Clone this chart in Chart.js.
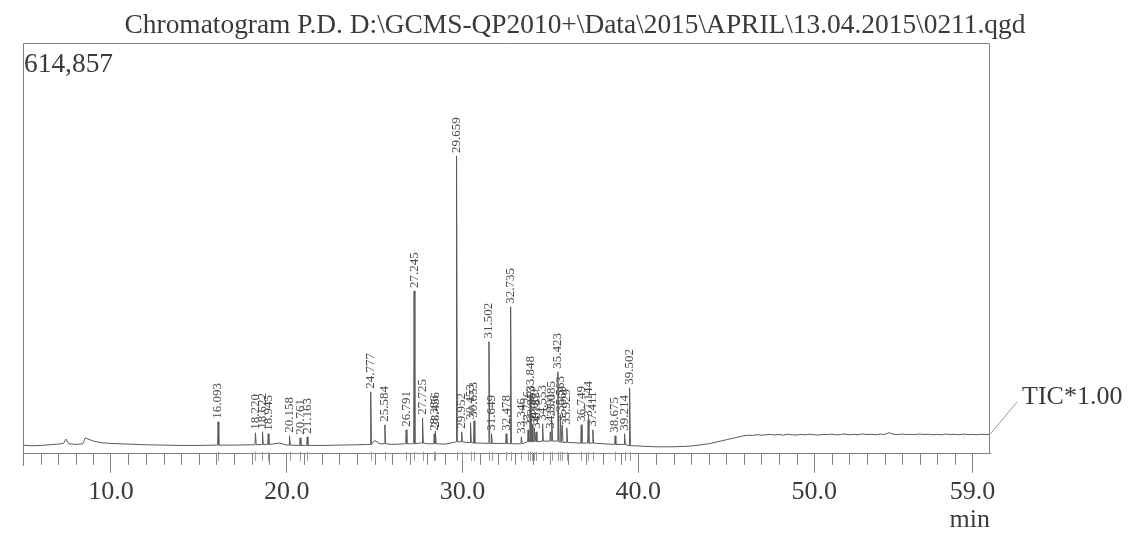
<!DOCTYPE html>
<html>
<head>
<meta charset="utf-8">
<script src="https://cdn.jsdelivr.net/npm/chart.js@4.4.1/dist/chart.umd.min.js"></script>
<style>
  html, body { margin: 0; padding: 0; background: #ffffff; }
  #wrap { width: 1128px; height: 536px; position: relative; }
</style>
</head>
<body>
<div id="wrap"><canvas id="c" width="1128" height="536"></canvas></div>
<script>
// ---- text ----
const chartTitle = 'Chromatogram P.D. D:\\GCMS-QP2010+\\Data\\2015\\APRIL\\13.04.2015\\0211.qgd';
const yMaxLabel = '614,857';
const traceLabel = 'TIC*1.00';
const xUnit = 'min';

// ---- axis ----
const xMin = 5.0, xMax = 60.0;
const yMax = 614857;
const xTickValues = [10, 20, 30, 40, 50, 59];
const xTickLabels = ['10.0', '20.0', '30.0', '40.0', '50.0', '59.0'];

// ---- integrated peaks: retention time (min) and apex intensity (counts) ----
const peakTimes = [
  16.093, 18.220, 18.622, 18.945, 20.158, 20.761, 21.163,
  24.777, 25.584, 26.791, 27.245, 27.725, 28.386, 28.456,
  29.659, 29.952, 30.453, 30.653, 31.502, 31.649, 32.478, 32.735,
  33.346, 33.726, 33.848, 33.953, 34.080, 34.187, 34.553, 34.991,
  35.085, 35.423, 35.563, 35.669, 35.929,
  36.749, 37.144, 37.411, 38.675, 39.214, 39.502
];
const peakHeights = [
  47900, 31400, 32900, 29900, 26900, 23900, 25400,
  92700, 43400, 35900, 243800, 53900, 29900, 34400,
  445800, 32900, 46400, 49400, 168000, 29900, 29900, 220000,
  25400, 35900, 88300, 43400, 38900, 32900, 44900, 32900,
  50900, 122700, 58300, 43400, 38900,
  43400, 50900, 35900, 26900, 29900, 98700
];

// ---- baseline between peaks: time (min) and intensity (counts) ----
const baseTimes = [
  5.0, 5.5, 6.0, 6.5, 7.0, 7.3, 7.45, 7.6, 8.0, 8.4, 8.55, 8.7, 9.0, 9.5,
  10.0, 11.0, 12.0, 13.0, 14.0, 15.0, 16.0, 17.0, 18.0, 19.0, 19.6, 20.0,
  21.0, 22.0, 23.0, 24.0, 24.6, 25.0, 25.3, 26.0, 27.0, 27.5, 28.0, 29.0,
  29.5, 29.8, 30.2, 31.0, 32.0, 33.0, 34.0, 35.0, 36.0, 37.0, 38.0, 39.0,
  39.8, 40.5, 41.0, 42.0, 43.0, 44.0, 45.0, 45.5,
  46.0, 46.25, 46.5, 46.75, 47.0, 47.25, 47.5, 47.75, 48.0, 48.25, 48.5, 48.75,
  49.0, 49.25, 49.5, 49.75, 50.0, 50.25, 50.5, 50.75, 51.0, 51.25, 51.5, 51.75,
  52.0, 52.25, 52.5, 52.75, 53.0, 53.25, 53.5, 53.75, 54.0, 54.25, 54.5, 54.75,
  55.0, 55.25, 55.5, 55.75, 56.0, 56.25, 56.5, 56.75, 57.0, 57.25, 57.5, 57.75,
  58.0, 58.25, 58.5, 58.75, 59.0, 59.25, 59.5, 59.75, 60.0
];
const baseValues = [
  13000, 12000, 12500, 13500, 14500, 15500, 22000, 15000, 14000, 15000, 24000, 22000, 19000, 16500,
  15500, 14500, 13500, 13000, 12500, 12500, 13000, 13000, 13500, 14000, 16000, 13000,
  12500, 12500, 13000, 13500, 14000, 20000, 15000, 14000, 15000, 16000, 15000, 14500,
  17000, 18000, 17000, 16000, 15500, 15000, 18000, 19000, 17000, 16000, 15000, 14000,
  12000, 11000, 10500, 10500, 11500, 15000, 21000, 24000,
  27000, 27800, 27500, 28600, 27900, 28400, 29100, 28200, 28800, 27900, 29300, 28500,
  28100, 29000, 28400, 29400, 28600, 28000, 29200, 28700, 29500, 28300, 28900, 29600,
  28400, 29100, 28600, 29800, 28800, 29300, 28500, 29600, 29000, 31500, 29400, 28700,
  29500, 28800, 29200, 28600, 29700, 28900, 29300, 28500, 29100, 28400, 29600, 28800,
  29200, 28600, 29500, 28700, 29000, 28500, 29300, 28800, 29000
];

// ---- build the TIC trace: baseline plus narrow peaks ----
function nearestBase(t) {
  let best = 0;
  baseTimes.forEach((b, i) => { if (Math.abs(b - t) < Math.abs(baseTimes[best] - t)) best = i; });
  return baseValues[best];
}
const trace = [];
baseTimes.forEach((t, i) => {
  if (!peakTimes.some(p => Math.abs(p - t) < 0.07)) trace.push({ x: t, y: baseValues[i] });
});
peakTimes.forEach((t, i) => {
  const foot = nearestBase(t);
  trace.push({ x: t - 0.025, y: foot }, { x: t, y: peakHeights[i] }, { x: t + 0.045, y: foot });
});
trace.sort((a, b) => a.x - b.x);

const SERIF = '"Liberation Serif", "DejaVu Serif", serif';
const INK = '#3a3a3a';
const FRAME = '#808080';

// frame, minor ticks, peak labels and annotation text
const chromPlugin = {
  id: 'chromDecor',
  afterDraw(chart) {
    const { ctx, chartArea: a, scales: { x, y } } = chart;
    ctx.save();
    ctx.strokeStyle = FRAME;
    ctx.lineWidth = 1;
    // frame (left, top, right)
    ctx.beginPath();
    ctx.moveTo(a.left + 0.5, a.bottom + 12);
    ctx.lineTo(a.left + 0.5, a.top + 0.5);
    ctx.lineTo(a.right - 0.5, a.top + 0.5);
    ctx.lineTo(a.right - 0.5, a.bottom);
    ctx.stroke();
    // one-minute minor ticks
    ctx.beginPath();
    for (let t = Math.ceil(xMin); t <= xMax - 1; t++) {
      if (xTickValues.includes(t)) continue;
      const px = Math.round(x.getPixelForValue(t)) + 0.5;
      ctx.moveTo(px, a.bottom);
      ctx.lineTo(px, a.bottom + 11);
    }
    ctx.stroke();
    // peak marks under the axis
    ctx.strokeStyle = '#9a9a9a';
    ctx.beginPath();
    peakTimes.forEach(t => {
      const px = Math.round(x.getPixelForValue(t)) + 0.5;
      ctx.moveTo(px, a.bottom - 2);
      ctx.lineTo(px, a.bottom + 7);
    });
    ctx.stroke();

    // retention time above each peak, written upward
    ctx.fillStyle = '#4a4a4a';
    ctx.font = '13px ' + SERIF;
    ctx.textAlign = 'left';
    ctx.textBaseline = 'middle';
    peakTimes.forEach((t, i) => {
      const px = x.getPixelForValue(t);
      const py = y.getPixelForValue(peakHeights[i]) - 3;
      ctx.save();
      ctx.translate(px, py);
      ctx.rotate(-Math.PI / 2);
      ctx.fillText(t.toFixed(3), 0, 0);
      ctx.restore();
    });

    // title
    ctx.fillStyle = INK;
    ctx.font = '27.4px ' + SERIF;
    ctx.textAlign = 'center';
    ctx.textBaseline = 'alphabetic';
    ctx.fillText(chartTitle, 575, 33);
    // full-scale value
    ctx.textAlign = 'left';
    ctx.fillText(yMaxLabel, a.left + 1, 72);
    // trace name with leader
    const lastY = y.getPixelForValue(baseValues[baseValues.length - 1]);
    ctx.strokeStyle = '#9a9a9a';
    ctx.beginPath();
    ctx.moveTo(a.right, lastY);
    ctx.lineTo(a.right + 27, 402);
    ctx.stroke();
    ctx.font = '26px ' + SERIF;
    ctx.textBaseline = 'middle';
    ctx.fillText(traceLabel, a.right + 32, 397);
    // unit
    ctx.textAlign = 'right';
    ctx.fillText(xUnit, a.right, 520);
    ctx.restore();
  }
};

new Chart(document.getElementById('c'), {
  type: 'line',
  data: {
    datasets: [{
      label: traceLabel,
      data: trace,
      borderColor: '#5a5a5a',
      borderWidth: 1,
      pointRadius: 0,
      tension: 0,
      fill: false
    }]
  },
  options: {
    responsive: false,
    animation: false,
    events: [],
    layout: { padding: { left: 23, right: 138, top: 43, bottom: 24 } },
    plugins: { legend: { display: false }, tooltip: { enabled: false }, title: { display: false } },
    scales: {
      x: {
        type: 'linear',
        min: xMin,
        max: xMax,
        afterBuildTicks: s => { s.ticks = xTickValues.map(v => ({ value: v })); },
        ticks: {
          autoSkip: false,
          maxRotation: 0,
          padding: 4,
          color: INK,
          font: { family: SERIF, size: 26 },
          callback: v => xTickLabels[xTickValues.indexOf(v)]
        },
        grid: { drawOnChartArea: false, tickLength: 19, color: FRAME, lineWidth: 1 },
        border: { display: true, color: FRAME, width: 1 }
      },
      y: { display: false, min: 0, max: yMax }
    }
  },
  plugins: [chromPlugin]
});
</script>
</body>
</html>
